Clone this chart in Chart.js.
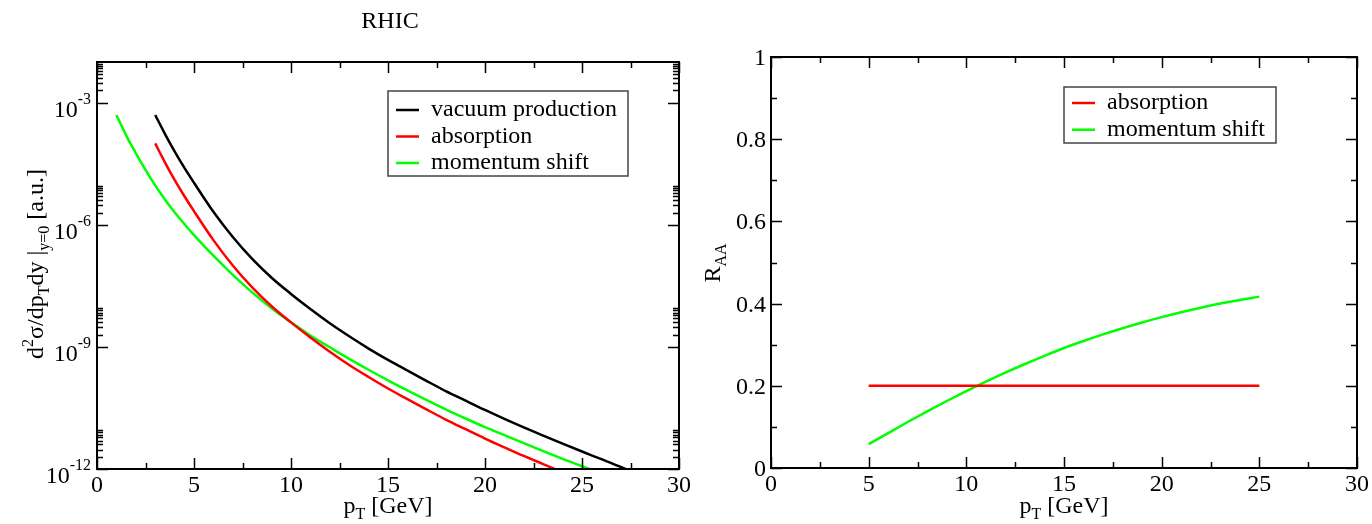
<!DOCTYPE html>
<html>
<head>
<meta charset="utf-8">
<script src="https://cdn.jsdelivr.net/npm/chart.js@4.4.0/dist/chart.umd.min.js"></script>
<style>
  html, body { margin: 0; padding: 0; background: #fff; }
  #wrap { position: relative; width: 1372px; height: 524px; }
  canvas { position: absolute; top: 0; }
</style>
</head>
<body>
<div id="wrap">
  <canvas id="spectrumChart" width="720" height="524" style="left:0"></canvas>
  <canvas id="raaChart" width="686" height="524" style="left:686px"></canvas>
</div>
<script>
// --- data ---
const vacuumPt  = [3, 3.5, 4, 4.5, 5, 6, 7, 8, 9, 10, 11, 12, 13, 14, 15, 16, 17, 18, 19, 20, 21, 22, 23, 24, 25, 26, 27, 27.4];
const vacuumVal = [5.0e-4, 1.72e-4, 6.4e-5, 2.54e-5, 1.08e-5, 2.09e-6, 5.0e-7, 1.45e-7, 5.0e-8, 2.0e-8, 8.5e-9, 3.8e-9, 1.82e-9, 9.1e-10,
                   4.8e-10, 2.63e-10, 1.45e-10, 8.1e-11, 4.8e-11, 2.82e-11, 1.70e-11, 1.05e-11, 6.6e-12, 4.2e-12, 2.69e-12, 1.74e-12, 1.12e-12, 9.3e-13];

const absorbPt  = [3, 3.5, 4, 4.5, 5, 6, 7, 8, 9, 10, 11, 12, 13, 14, 15, 16, 17, 18, 19, 20, 21, 22, 23, 24];
const absorbVal = [1.0e-4, 3.43e-5, 1.27e-5, 5.1e-6, 2.16e-6, 4.2e-7, 1.0e-7, 2.9e-8, 1.0e-8, 4.0e-9, 1.70e-9, 7.6e-10, 3.6e-10, 1.82e-10,
                   9.5e-11, 5.2e-11, 2.88e-11, 1.62e-11, 9.5e-12, 5.6e-12, 3.4e-12, 2.09e-12, 1.32e-12, 8.3e-13];

const shiftPt  = [1, 1.5, 2, 2.5, 3, 3.5, 4, 4.5, 5, 6, 7, 8, 9, 10, 11, 12, 13, 14, 15, 16, 17, 18, 19, 20, 21, 22, 23, 24, 25, 25.5];
const shiftVal = [5.0e-4, 1.58e-4, 5.8e-5, 2.24e-5, 9.3e-6, 4.2e-6, 2.04e-6, 1.05e-6, 5.6e-7, 1.74e-7, 5.9e-8, 2.19e-8, 8.9e-9, 4.0e-9,
                  1.91e-9, 9.8e-10, 5.1e-10, 2.75e-10, 1.51e-10, 8.5e-11, 4.9e-11, 2.88e-11, 1.74e-11, 1.07e-11, 6.8e-12, 4.3e-12,
                  2.75e-12, 1.78e-12, 1.17e-12, 9.5e-13];

const raaPt       = [5, 6, 7, 8, 9, 10, 11, 12, 13, 14, 15, 16, 17, 18, 19, 20, 21, 22, 23, 24, 25];
const raaAbsorb   = [0.2, 0.2, 0.2, 0.2, 0.2, 0.2, 0.2, 0.2, 0.2, 0.2, 0.2, 0.2, 0.2, 0.2, 0.2, 0.2, 0.2, 0.2, 0.2, 0.2, 0.2];
const raaShift    = [0.058, 0.085, 0.112, 0.138, 0.163, 0.187, 0.210, 0.232, 0.253, 0.273, 0.292, 0.309, 0.325, 0.340, 0.354,
                     0.367, 0.379, 0.390, 0.400, 0.409, 0.417];

// tick positions / labels
const ptMajor     = [0, 5, 10, 15, 20, 25, 30];
const ptMinor     = [2.5, 7.5, 12.5, 17.5, 22.5, 27.5];
const logMajorExp = [-12, -9, -6, -3];
const logMinorMul = [2, 3, 4, 5, 6, 7, 8, 9];
const raaMajor    = [0, 0.2, 0.4, 0.6, 0.8, 1];
const raaMajorLbl = ['0', '0.2', '0.4', '0.6', '0.8', '1'];
const raaMinor    = [0.1, 0.3, 0.5, 0.7, 0.9];

const RED = '#ff0000', GREEN = '#00ff00', BLACK = '#000000';
const FONT = '"Liberation Serif", "Times New Roman", serif';

function pts(xs, ys) { return xs.map((x, i) => ({ x: x, y: ys[i] })); }

function lineSet(label, data, color) {
    return { label, data, borderColor: color, borderWidth: 2.5, pointRadius: 0,
             fill: false, cubicInterpolationMode: 'monotone' };
}

// text made of pieces with their own size and vertical shift (sub/superscripts)
function runWidth(ctx, parts) {
    let w = 0;
    parts.forEach(p => { ctx.font = p.size + 'px ' + FONT; w += ctx.measureText(p.t).width; });
    return w;
}
function drawRun(ctx, parts, x, y, align) {
    const w = runWidth(ctx, parts);
    let cx = align === 'center' ? x - w / 2 : (align === 'right' ? x - w : x);
    ctx.textAlign = 'left';
    parts.forEach(p => {
        ctx.font = p.size + 'px ' + FONT;
        ctx.fillText(p.t, cx, y + (p.dy || 0));
        cx += ctx.measureText(p.t).width;
    });
}

// Grace-like frame: box plus ticks pointing inward on all four sides
function framePlugin(cfg) {
    return {
        id: 'frame',
        afterDatasetsDraw(chart) {
            const { ctx, chartArea: a, scales: { x, y } } = chart;
            ctx.save();
            ctx.strokeStyle = '#000';
            ctx.lineWidth = 1.5;
            ctx.beginPath();
            const xt = (v, len) => {
                const px = Math.round(x.getPixelForValue(v)) + 0.5;
                ctx.moveTo(px, a.bottom); ctx.lineTo(px, a.bottom - len);
                ctx.moveTo(px, a.top); ctx.lineTo(px, a.top + len);
            };
            const yt = (v, len) => {
                const py = Math.round(y.getPixelForValue(v)) + 0.5;
                ctx.moveTo(a.left, py); ctx.lineTo(a.left + len, py);
                ctx.moveTo(a.right, py); ctx.lineTo(a.right - len, py);
            };
            cfg.xMajor.forEach(v => xt(v, 11));
            cfg.xMinor.forEach(v => xt(v, 6));
            cfg.yMajor.forEach(v => yt(v, 11));
            cfg.yMinor.forEach(v => yt(v, 6));
            ctx.stroke();

            ctx.lineWidth = 2;
            ctx.strokeRect(a.left, a.top, a.right - a.left, a.bottom - a.top);

            ctx.fillStyle = '#000';
            ctx.textBaseline = 'alphabetic';
            cfg.xMajor.forEach(v => {
                drawRun(ctx, [{ t: String(v), size: 24 }], x.getPixelForValue(v), a.bottom + 23, 'center');
            });
            cfg.yLabels(ctx, y, a);

            drawRun(ctx, [{ t: 'p', size: 24 }, { t: 'T', size: 16, dy: 6 }, { t: ' [GeV]', size: 24 }],
                    (a.left + a.right) / 2, 513, 'center');
            ctx.save();
            ctx.translate(cfg.yTitleX, cfg.yTitleY);
            ctx.rotate(-Math.PI / 2);
            drawRun(ctx, cfg.yTitle, 0, 0, 'center');
            ctx.restore();
            if (cfg.title) drawRun(ctx, [{ t: cfg.title, size: 24 }], cfg.titleX, 28, 'center');

            // legend box
            const L = cfg.legend;
            ctx.lineWidth = 1.5;
            ctx.strokeStyle = '#444';
            ctx.strokeRect(L.left, L.top, L.right - L.left, L.bottom - L.top);
            chart.data.datasets.forEach((ds, i) => {
                const ly = L.firstLine + i * L.step;
                ctx.strokeStyle = ds.borderColor;
                ctx.lineWidth = 2.5;
                ctx.beginPath();
                ctx.moveTo(L.left + 8, ly); ctx.lineTo(L.left + 31, ly);
                ctx.stroke();
                drawRun(ctx, [{ t: ds.label, size: 24 }], L.left + 43, ly + 6, 'left');
            });
            ctx.restore();
        }
    };
}

const baseOpts = (padding) => ({
    responsive: false,
    animation: false,
    layout: { padding },
    plugins: { legend: { display: false }, title: { display: false }, tooltip: { enabled: false } },
    events: []
});

// --- left: spectra ---
const logMinor = [];
logMajorExp.forEach(e => logMinorMul.forEach(m => logMinor.push(m * Math.pow(10, e))));

new Chart(document.getElementById('spectrumChart'), {
    type: 'line',
    data: {
        datasets: [
            lineSet('vacuum production', pts(vacuumPt, vacuumVal), BLACK),
            lineSet('absorption', pts(absorbPt, absorbVal), RED),
            lineSet('momentum shift', pts(shiftPt, shiftVal), GREEN)
        ]
    },
    options: Object.assign(baseOpts({ left: 97, right: 41, top: 62, bottom: 55 }), {
        scales: {
            x: { type: 'linear', min: 0, max: 30, display: false },
            y: { type: 'logarithmic', min: 1e-12, max: 1e-2, display: false }
        }
    }),
    plugins: [framePlugin({
        xMajor: ptMajor, xMinor: ptMinor,
        yMajor: logMajorExp.map(e => Math.pow(10, e)), yMinor: logMinor,
        yLabels(ctx, y, a) {
            logMajorExp.forEach(e => {
                const py = y.getPixelForValue(Math.pow(10, e));
                ctx.font = '16px ' + FONT;
                const sw = ctx.measureText(String(e)).width;
                drawRun(ctx, [{ t: String(e), size: 16 }], a.left - 6, py + 1, 'right');
                drawRun(ctx, [{ t: '10', size: 24 }], a.left - 6 - sw, py + 14, 'right');
            });
        },
        yTitle: [{ t: 'd', size: 24 }, { t: '2', size: 16, dy: -10 }, { t: 'σ/dp', size: 24 }, { t: 'T', size: 16, dy: 6 },
                 { t: 'dy |', size: 24 }, { t: 'y=0', size: 16, dy: 6 }, { t: ' [a.u.]', size: 24 }],
        yTitleX: 43, yTitleY: 264,
        title: 'RHIC', titleX: 390,
        legend: { left: 388, top: 91, right: 628, bottom: 176, firstLine: 110, step: 26.5 }
    })]
});

// --- right: nuclear modification factor ---
new Chart(document.getElementById('raaChart'), {
    type: 'line',
    data: {
        datasets: [
            lineSet('absorption', pts(raaPt, raaAbsorb), RED),
            lineSet('momentum shift', pts(raaPt, raaShift), GREEN)
        ]
    },
    options: Object.assign(baseOpts({ left: 85, right: 15, top: 57, bottom: 56 }), {
        scales: {
            x: { type: 'linear', min: 0, max: 30, display: false },
            y: { type: 'linear', min: 0, max: 1, display: false }
        }
    }),
    plugins: [framePlugin({
        xMajor: ptMajor, xMinor: ptMinor,
        yMajor: raaMajor, yMinor: raaMinor,
        yLabels(ctx, y, a) {
            raaMajor.forEach((v, i) => {
                drawRun(ctx, [{ t: raaMajorLbl[i], size: 24 }], a.left - 5, y.getPixelForValue(v) + 8, 'right');
            });
        },
        yTitle: [{ t: 'R', size: 24 }, { t: 'AA', size: 16, dy: 6 }],
        yTitleX: 34, yTitleY: 263,
        title: null,
        legend: { left: 378, top: 87, right: 590, bottom: 143, firstLine: 103, step: 26.7 }
    })]
});
</script>
</body>
</html>
